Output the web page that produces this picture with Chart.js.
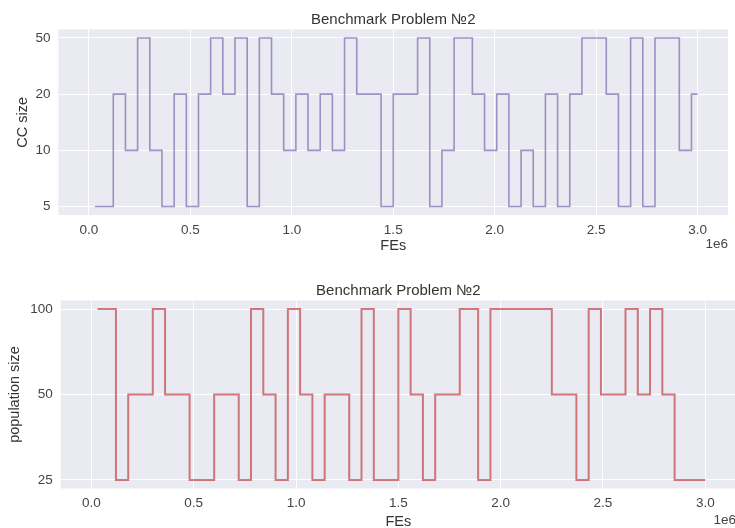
<!DOCTYPE html>
<html>
<head>
<meta charset="utf-8">
<script src="https://cdn.jsdelivr.net/npm/chart.js@4.4.1/dist/chart.umd.min.js"></script>
<style>
  html, body { margin: 0; padding: 0; width: 735px; height: 528px; overflow: hidden; background: #fff; }
  #ccChart { position: absolute; left: 0; top: 0; }
  #popChart { position: absolute; left: 0; top: 262px; }
</style>
</head>
<body>
<canvas id="ccChart" width="735" height="262"></canvas>
<canvas id="popChart" width="745" height="280"></canvas>
<script>
// FEs where the value changes (last entry closes the line)
const ccFEs = [30000, 120000, 180000, 240000, 300000, 360000, 420000, 480000, 540000, 600000,
  660000, 720000, 780000, 840000, 900000, 960000, 1020000, 1080000, 1140000, 1200000,
  1260000, 1320000, 1440000, 1500000, 1620000, 1680000, 1740000, 1800000, 1890000, 1950000,
  2010000, 2070000, 2130000, 2190000, 2250000, 2310000, 2370000, 2430000, 2550000, 2610000,
  2670000, 2730000, 2790000, 2910000, 2970000, 3000000];
const ccSize = [5, 20, 10, 50, 10, 5, 20, 5, 20, 50,
  20, 50, 5, 50, 20, 10, 20, 10, 20, 10,
  50, 20, 5, 20, 50, 5, 10, 50, 20, 10,
  20, 5, 10, 5, 20, 5, 20, 50, 20, 5,
  50, 5, 50, 10, 20, 20];
const ccLevels = [5, 10, 20, 50];

const popFEs = [30000, 120000, 180000, 300000, 360000, 480000, 600000, 720000, 780000, 840000,
  900000, 960000, 1020000, 1080000, 1140000, 1260000, 1320000, 1380000, 1500000, 1560000,
  1620000, 1680000, 1800000, 1890000, 1950000, 2250000, 2370000, 2430000, 2490000, 2610000,
  2670000, 2730000, 2790000, 2850000, 3000000];
const popSize = [100, 25, 50, 100, 50, 25, 50, 25, 100, 50,
  25, 100, 50, 25, 50, 25, 100, 25, 100, 50,
  25, 50, 100, 25, 100, 50, 25, 100, 50, 100,
  50, 100, 50, 25, 25];
const popLevels = [25, 50, 100];

const xTicks = [0, 500000, 1000000, 1500000, 2000000, 2500000, 3000000];
const titleText = "Benchmark Problem №2";

const FONT = "'Liberation Sans', Arial, sans-serif";

// grey plot background + title over the plot area + the "1e6" offset text
const decor = {
  id: "decor",
  beforeDraw(chart) {
    const a = chart.chartArea;
    const ctx = chart.ctx;
    ctx.save();
    ctx.fillStyle = "#eaeaf2";
    ctx.fillRect(a.left, a.top, a.right - a.left, a.bottom - a.top);
    ctx.restore();
  },
  afterDraw(chart, args, opts) {
    const a = chart.chartArea;
    const ctx = chart.ctx;
    ctx.save();
    ctx.fillStyle = "#333";
    ctx.font = "15px " + FONT;
    ctx.textAlign = "center";
    ctx.textBaseline = "middle";
    ctx.fillText(titleText, (a.left + a.right) / 2, opts.titleY);
    ctx.font = "13.5px " + FONT;
    ctx.fillStyle = "#444";
    ctx.textAlign = "right";
    ctx.fillText("1e6", a.right, opts.expY);
    ctx.restore();
  }
};

function makeChart(id, fes, sizes, levels, color, width, lay) {
  return new Chart(document.getElementById(id), {
    type: "line",
    data: {
      datasets: [{
        data: fes.map((x, i) => ({ x: x, y: levels.indexOf(sizes[i]) })),
        borderColor: color,
        borderWidth: width,
        stepped: "before",
        pointRadius: 0,
        fill: false
      }]
    },
    options: {
      responsive: false,
      animation: false,
      layout: { padding: lay.padding },
      plugins: {
        legend: { display: false },
        tooltip: { enabled: false },
        decor: { titleY: lay.titleY, expY: lay.expY }
      },
      scales: {
        x: {
          type: "linear",
          min: -150000,
          max: 3150000,
          afterBuildTicks: (s) => { s.ticks = xTicks.map((v) => ({ value: v })); },
          afterFit: (s) => { s.height = lay.xHeight; },
          grid: { color: "#fff", lineWidth: 1, drawTicks: false },
          border: { display: false },
          ticks: {
            padding: 7,
            color: "#444",
            font: { family: FONT, size: 13.5 },
            maxRotation: 0,
            callback: (v) => (v / 1e6).toFixed(1)
          },
          title: {
            display: true,
            text: "FEs",
            color: "#333",
            font: { family: FONT, size: 14.5 },
            padding: { top: 0, bottom: 0 }
          }
        },
        y: {
          type: "linear",
          min: -0.05 * (levels.length - 1),
          max: (levels.length - 1) * 1.05,
          afterBuildTicks: (s) => { s.ticks = levels.map((_, i) => ({ value: i })); },
          afterFit: (s) => { s.width = lay.yWidth; },
          grid: { color: "#fff", lineWidth: 1, drawTicks: false },
          border: { display: false },
          ticks: {
            padding: 8,
            color: "#444",
            font: { family: FONT, size: 13.5 },
            callback: (v) => levels[v]
          },
          title: {
            display: true,
            text: lay.yTitle,
            color: "#333",
            font: { family: FONT, size: 14.5 },
            padding: { top: lay.yTitlePad, bottom: 0 }
          }
        }
      }
    },
    plugins: [decor]
  });
}

makeChart("ccChart", ccFEs, ccSize, ccLevels, "rgba(129,114,179,0.75)", 1.6, {
  padding: { top: 29.5, left: 0, right: 7, bottom: 7.1 },
  xHeight: 39.9,
  yWidth: 58.5,
  yTitle: "CC size",
  yTitlePad: 14,
  titleY: 20,
  expY: 244
});

makeChart("popChart", popFEs, popSize, popLevels, "rgba(196,78,82,0.75)", 2, {
  padding: { top: 38.5, left: 0, right: 9, bottom: 11.8 },
  xHeight: 41.7,
  yWidth: 60.7,
  yTitle: "population size",
  yTitlePad: 6.3,
  titleY: 28.7,
  expY: 258
});
</script>
</body>
</html>
